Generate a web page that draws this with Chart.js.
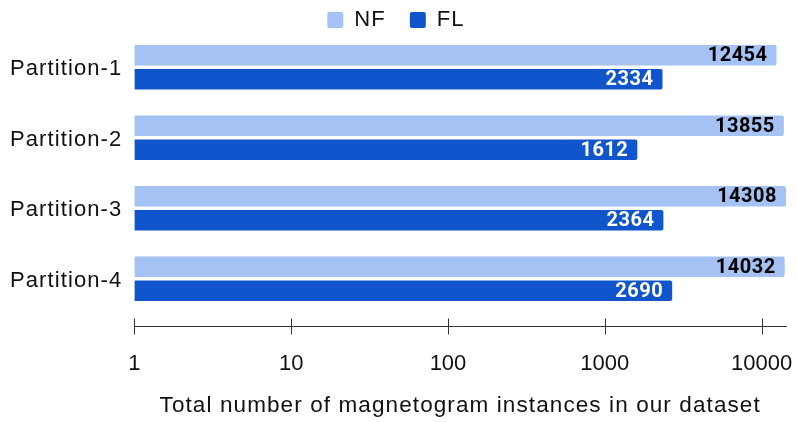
<!DOCTYPE html>
<html>
<head>
<meta charset="utf-8">
<script src="https://cdn.jsdelivr.net/npm/chart.js@4/dist/chart.umd.min.js"></script>
<style>
  html, body { margin: 0; padding: 0; background: #fff; }
  #wrap { width: 797px; height: 422px; }
</style>
</head>
<body>
<div id="wrap"><canvas id="c" width="797" height="422"></canvas></div>
<script>
// Instance counts per partition
const partitions = ['Partition-1', 'Partition-2', 'Partition-3', 'Partition-4'];
const nfCounts = [12454, 13855, 14308, 14032];
const flCounts = [2334, 1612, 2364, 2690];
const axisTicks = [1, 10, 100, 1000, 10000];

const NF_COLOR = '#a4c2f4';
const FL_COLOR = '#1155cc';
const TEXT = '#111111';
const SANS = "'Liberation Sans', Arial, sans-serif";

// Slightly tracked-out text for axis labels, title and legend
const tracking = {
  id: 'tracking',
  beforeUpdate(chart) { chart.ctx.letterSpacing = '1.1px'; },
  beforeDraw(chart) { chart.ctx.letterSpacing = '1.1px'; }
};

// Value labels drawn inside the right end of each bar
const valueLabels = {
  id: 'valueLabels',
  afterDatasetsDraw(chart) {
    const ctx = chart.ctx;
    ctx.save();
    ctx.font = "bold 20px Roboto, sans-serif";
    ctx.letterSpacing = '0.5px';
    ctx.textAlign = 'right';
    ctx.textBaseline = 'middle';
    chart.data.datasets.forEach((ds, di) => {
      const meta = chart.getDatasetMeta(di);
      ctx.fillStyle = di === 0 ? '#000' : '#fff';
      meta.data.forEach((bar, i) => {
        ctx.fillText(String(ds.data[i]), bar.x - 9, bar.y + 1);
      });
    });
    ctx.restore();
  }
};

// Bottom axis: line, crossing tick marks and decade labels below the plot area
const axisLine = {
  id: 'axisLine',
  afterDraw(chart) {
    const ctx = chart.ctx;
    const xs = chart.scales.x;
    const y = chart.chartArea.bottom + 12.5;
    ctx.save();
    ctx.letterSpacing = '0px';
    ctx.strokeStyle = '#333';
    ctx.lineWidth = 1;
    ctx.beginPath();
    ctx.moveTo(xs.left, y);
    ctx.lineTo(xs.right + 1, y);
    axisTicks.forEach(v => {
      const px = Math.round(xs.getPixelForValue(v)) + 0.5;
      ctx.moveTo(px, y - 8);
      ctx.lineTo(px, y + 8);
    });
    ctx.stroke();
    ctx.font = "22px " + SANS;
    ctx.fillStyle = TEXT;
    ctx.textAlign = 'center';
    ctx.textBaseline = 'alphabetic';
    axisTicks.forEach(v => {
      ctx.fillText(String(v), xs.getPixelForValue(v), chart.chartArea.bottom + 56);
    });
    ctx.restore();
  }
};

new Chart(document.getElementById('c'), {
  type: 'bar',
  data: {
    labels: partitions,
    datasets: [
      { label: 'NF', data: nfCounts, backgroundColor: NF_COLOR, borderRadius: 2, borderSkipped: 'start' },
      { label: 'FL', data: flCounts, backgroundColor: FL_COLOR, borderRadius: 2, borderSkipped: 'start' }
    ]
  },
  options: {
    indexAxis: 'y',
    responsive: false,
    animation: false,
    categoryPercentage: 0.678,
    barPercentage: 0.854,
    layout: { padding: { left: 6, right: 11, top: -15, bottom: 3 } },
    plugins: {
      legend: {
        position: 'top',
        maxHeight: 47,
        labels: {
          font: { family: SANS, size: 22 },
          color: TEXT,
          boxWidth: 16,
          boxHeight: 16,
          useBorderRadius: true,
          borderRadius: 2,
          padding: 24
        }
      },
      tooltip: { enabled: false }
    },
    scales: {
      x: {
        type: 'logarithmic',
        min: 1,
        max: Math.max(...nfCounts, ...flCounts),
        grid: { display: false },
        border: { display: false },
        ticks: { display: false },
        title: {
          display: true,
          text: 'Total number of magnetogram instances in our dataset',
          font: { family: SANS, size: 22.5 },
          color: TEXT,
          padding: { top: 70, bottom: 0 }
        }
      },
      y: {
        grid: { display: false },
        border: { display: false },
        ticks: {
          font: { family: SANS, size: 22 },
          color: TEXT,
          padding: 4,
          labelOffset: 2
        }
      }
    }
  },
  plugins: [tracking, valueLabels, axisLine]
});
</script>
</body>
</html>
